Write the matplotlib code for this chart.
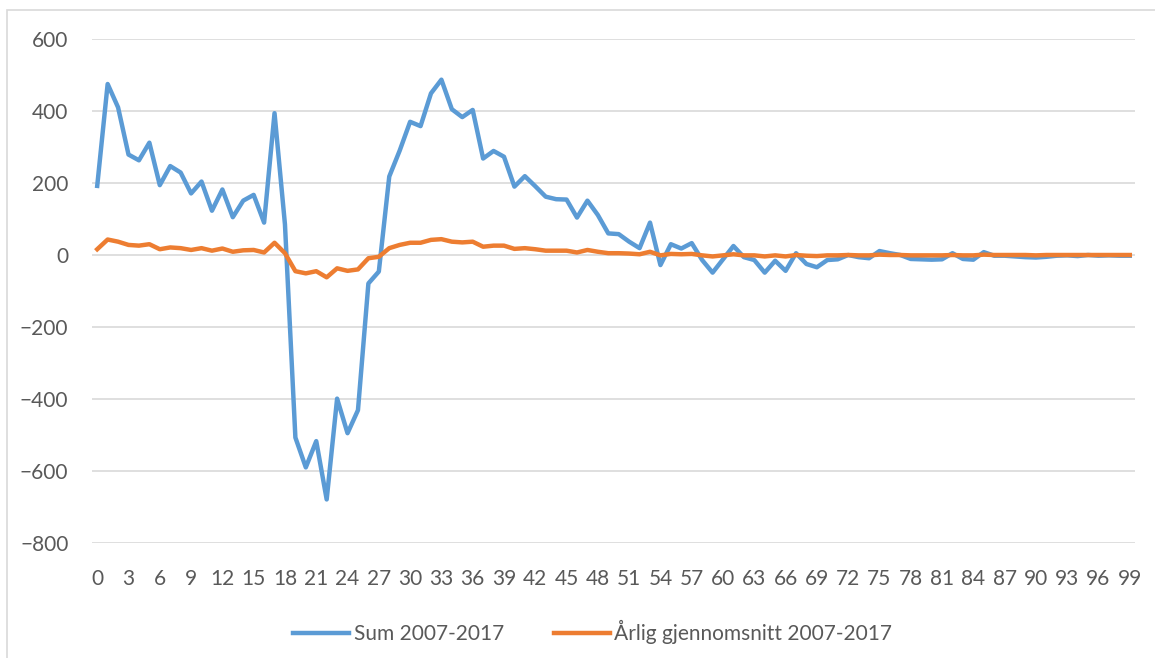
import numpy as np
import matplotlib.pyplot as plt
from matplotlib.patches import Rectangle

plt.rcParams['font.family'] = ['Lato', 'DejaVu Sans']

# Age (0-99)
ages = list(range(100))

# Sum 2007-2017
sum_values = [
    192, 475, 410, 279, 263, 312, 194, 247, 229, 171,
    204, 123, 182, 105, 151, 167, 90, 394, 85, -507,
    -590, -517, -679, -399, -495, -431, -79, -46, 218, 290,
    370, 358, 449, 487, 405, 383, 403, 268, 289, 273,
    190, 219, 191, 162, 155, 154, 104, 151, 111, 60,
    58, 37, 19, 90, -28, 30, 18, 33, -14, -49,
    -12, 25, -6, -14, -49, -16, -44, 5, -25, -34,
    -14, -12, 0, -6, -9, 11, 5, 0, -11, -12,
    -13, -12, 5, -11, -13, 8, -2, -2, -4, -6,
    -7, -5, -2, -1, -3, 0, -2, -1, -2, -2,
]

# Årlig gjennomsnitt 2007-2017
avg_values = [
    16, 43, 37, 28, 26, 30, 16, 21, 19, 14,
    19, 12, 18, 9, 13, 14, 7, 34, 5, -45,
    -51, -45, -62, -37, -44, -40, -9, -5, 19, 28,
    34, 34, 42, 44, 37, 35, 37, 23, 26, 26,
    17, 19, 16, 12, 12, 12, 7, 14, 9, 5,
    5, 4, 2, 9, -1, 3, 2, 3, -1, -4,
    -1, 2, -1, -1, -4, -1, -4, 0, -2, -3,
    -1, -1, 0, -1, -1, 1, 0, 0, -1, -1,
    -1, -1, 0, -1, -1, 1, 0, 0, 0, 0,
    -1, 0, 0, 0, 0, 0, 0, 0, 0, 0,
]

blue = '#5B9BD5'
orange = '#ED7D31'
text_col = '#595959'

fig = plt.figure(figsize=(11.55, 6.58), dpi=100)
ax = fig.add_axes([92 / 1155, 1 - 543 / 658, (1135 - 92) / 1155, (543 - 39) / 658])

ax.plot(ages, sum_values, color=blue, linewidth=3.2, label='Sum 2007-2017',
        solid_joinstyle='round', zorder=3)
ax.plot(ages, avg_values, color=orange, linewidth=3.2, label='Årlig gjennomsnitt 2007-2017',
        solid_joinstyle='round', zorder=4)

ax.set_xlim(-0.5, 99.5)
ax.set_ylim(-800, 600)
ax.set_yticks(np.arange(-800, 601, 200))
ax.set_xticks(ages[::3])
ax.grid(axis='y', color='#D9D9D9', linewidth=1.2)
ax.set_axisbelow(True)
for s in ax.spines.values():
    s.set_visible(False)
ax.tick_params(axis='both', length=0, labelsize=15, labelcolor=text_col)
ax.tick_params(axis='y', pad=17)
ax.tick_params(axis='x', pad=19)

leg = ax.legend(loc='upper center', bbox_to_anchor=(0.48, -0.115), ncol=2, frameon=False,
                fontsize=15, handlelength=2.7, columnspacing=2.4, handletextpad=0.2)
for t in leg.get_texts():
    t.set_color(text_col)

# chart border
fig.patches.append(Rectangle((7 / 1155, -0.1), 1.2, 1 - 10 / 658 + 0.1, transform=fig.transFigure,
                             fill=False, edgecolor='#D9D9D9', linewidth=1.2))

fig.savefig('out.png', dpi=100)
